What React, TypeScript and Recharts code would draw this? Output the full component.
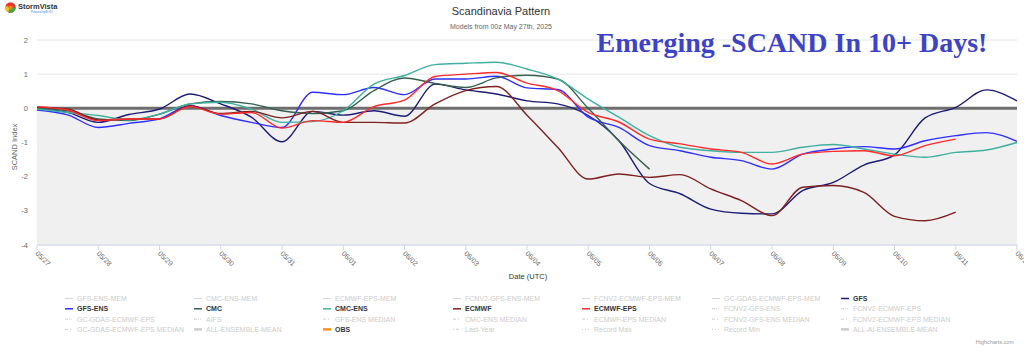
import React from 'react';
import { LineChart, Line, XAxis, YAxis, CartesianGrid, ReferenceArea, ReferenceLine } from 'recharts';

const DAYS = [0, 0.5, 1, 1.5, 2, 2.5, 3, 3.5, 4, 4.5, 5, 5.5, 6, 6.5, 7, 7.5, 8, 8.5, 9, 9.5, 10, 10.5, 11, 11.5, 12, 12.5, 13, 13.5, 14, 14.5, 15, 15.5, 16];
const DATE_TICKS = [0, 1, 2, 3, 4, 5, 6, 7, 8, 9, 10, 11, 12, 13, 14, 15, 16];
const DATE_LABELS = ['05/27', '05/28', '05/29', '05/30', '05/31', '06/01', '06/02', '06/03', '06/04', '06/05', '06/06', '06/07', '06/08', '06/09', '06/10', '06/11', '06/12'];
const Y_TICKS = [-4, -3, -2, -1, 0, 1, 2];

const GFS = [-0.02, -0.12, -0.41, -0.18, -0.02, 0.42, 0.13, -0.26, -0.98, -0.09, -0.2, -0.07, -0.23, 0.71, 0.54, 0.42, 0.22, 0.13, -0.21, -0.95, -2.2, -2.5, -2.95, -3.07, -3.09, -2.41, -2.17, -1.66, -1.36, -0.28, 0.03, 0.54, 0.22];
const GFS_ENS = [-0.05, -0.19, -0.56, -0.44, -0.31, 0.08, -0.21, -0.41, -0.56, 0.47, 0.4, 0.61, 0.4, 0.86, 0.86, 0.94, 0.6, 0.55, -0.26, -0.56, -1.09, -1.24, -1.43, -1.53, -1.78, -1.34, -1.19, -1.12, -1.19, -0.95, -0.8, -0.71, -0.97];
const CMC = [0.0, -0.07, -0.31, -0.36, -0.17, 0.13, 0.2, 0.13, -0.07, -0.15, -0.07, 0.52, 0.89, 0.73, 0.61, 0.89, 0.97, 0.86, 0.0, -0.95, -1.78, null, null, null, null, null, null, null, null, null, null, null, null];
const CMC_ENS = [-0.02, -0.12, -0.21, -0.34, -0.17, 0.13, 0.18, -0.02, -0.41, -0.39, -0.07, 0.71, 0.96, 1.28, 1.32, 1.35, 1.15, 0.86, 0.27, -0.26, -0.8, -1.14, -1.24, -1.29, -1.29, -1.14, -1.06, -1.19, -1.34, -1.43, -1.29, -1.22, -1.0];
const ECMWF = [0.03, -0.02, -0.34, -0.31, -0.31, 0.08, -0.15, -0.09, -0.28, -0.09, -0.41, -0.41, -0.43, 0.13, 0.52, 0.64, -0.2, -1.14, -2.07, -1.92, -2.02, -1.94, -2.36, -2.7, -3.14, -2.31, -2.26, -2.46, -3.16, -3.29, -3.04, null, null];
const ECMWF_EPS = [0.05, -0.05, -0.36, -0.31, -0.31, 0.05, -0.17, -0.12, -0.58, -0.36, -0.41, 0.05, 0.24, 0.93, 1.0, 1.05, 0.74, 0.52, -0.12, -0.4, -0.9, -1.04, -1.19, -1.29, -1.63, -1.34, -1.26, -1.24, -1.39, -1.09, -0.9, null, null];

const SERIES = [
  { key: 'GFS', color: '#1c1c78', values: GFS },
  { key: 'GFS-ENS', color: '#2f2fff', values: GFS_ENS },
  { key: 'CMC', color: '#33604f', values: CMC },
  { key: 'CMC-ENS', color: '#3fb0a0', values: CMC_ENS },
  { key: 'ECMWF', color: '#7d2020', values: ECMWF },
  { key: 'ECMWF-EPS', color: '#ff2a2a', values: ECMWF_EPS },
];

const LEGEND_NAMES = [
  'GFS-ENS-MEM', 'CMC-ENS-MEM', 'ECMWF-EPS-MEM', 'FCNV2-GFS-ENS-MEM', 'FCNV2-ECMWF-EPS-MEM', 'GC-GDAS-ECMWF-EPS-MEM', 'GFS',
  'GFS-ENS', 'CMC', 'CMC-ENS', 'ECMWF', 'ECMWF-EPS', 'FCNV2-GFS-ENS', 'FCNV2-ECMWF-EPS',
  'GC-GDAS-ECMWF-EPS', 'AIFS', 'GFS-ENS MEDIAN', 'CMC-ENS MEDIAN', 'ECMWF-EPS MEDIAN', 'FCNV2-GFS-ENS MEDIAN', 'FCNV2-ECMWF-EPS MEDIAN',
  'GC-GDAS-ECMWF-EPS MEDIAN', 'ALL-ENSEMBLE-MEAN', 'OBS', 'Last-Year', 'Record Max', 'Record Min', 'ALL-AI-ENSEMBLE-MEAN',
];
const LEGEND_SYMBOLS = [
  'thin', 'thin', 'thin', 'thin', 'thin', 'thin', 'solid',
  'solid', 'solid', 'solid', 'solid', 'solid', 'dashdotdot', 'dashdotdot',
  'dashdotdot', 'dashdotdot', 'dashdot', 'dashdot', 'dashdot', 'dashdot', 'dashdot',
  'dashdot', 'thick', 'thick', 'dotdash', 'dot', 'dot', 'thick',
];
const LEGEND_COLORS: Record<string, string> = {
  GFS: '#1c1c78', 'GFS-ENS': '#2f2fff', CMC: '#33604f', 'CMC-ENS': '#3fb0a0', ECMWF: '#7d2020', 'ECMWF-EPS': '#ff2a2a', OBS: '#f7941d',
};

const data = DAYS.map((d, i) => {
  const row: Record<string, number | null> = { day: d };
  SERIES.forEach((s) => { row[s.key] = s.values[i]; });
  return row;
});

const FONT = '"Liberation Sans", Arial, sans-serif';

const XTick = (props: any) => {
  const { x, y, payload } = props;
  return (
    <text x={x - 2} y={y + 2} transform={`rotate(45, ${x - 2}, ${y + 2})`} textAnchor="start" fontSize={7} fill="#666" fontFamily={FONT}>
      {DATE_LABELS[payload.value]}
    </text>
  );
};

const dashFor = (t: string) => {
  switch (t) {
    case 'dashdotdot': return '3,1,1,1,1,1';
    case 'dashdot': return '3,2,1,2';
    case 'dot': return '1,2';
    case 'dotdash': return '1,2,3,2';
    default: return undefined;
  }
};

const LegendBlock = () => {
  const colX = [65, 194, 323, 453, 582, 712, 841];
  const rowY = [298.5, 308.8, 319.1, 329.4];
  return (
    <svg width={1024} height={347} style={{ position: 'absolute', left: 0, top: 0, pointerEvents: 'none' }}>
      {LEGEND_NAMES.map((name, i) => {
        const c = i % 7;
        const r = Math.floor(i / 7);
        const x = colX[c];
        const y = rowY[r];
        const t = LEGEND_SYMBOLS[i];
        const active = LEGEND_COLORS[name];
        const stroke = active || '#cccccc';
        const sw = t === 'thick' ? 2.5 : t === 'thin' ? 0.8 : active ? 1.5 : 1;
        return (
          <g key={name}>
            <line x1={x} x2={x + 8} y1={y} y2={y} stroke={stroke} strokeWidth={sw} strokeDasharray={dashFor(t)} />
            <text x={x + 12} y={y} dy="0.35em" fontSize={7} fontFamily={FONT} fill={active ? '#333333' : '#cccccc'} fontWeight={active ? 'bold' : 'normal'}>
              {name}
            </text>
          </g>
        );
      })}
    </svg>
  );
};

export default function App() {
  return (
    <div style={{ position: 'absolute', left: 0, top: 0, width: 1024, height: 347, background: '#fff', overflow: 'hidden' }}>
      <LineChart width={1024} height={347} data={data} margin={{ top: 40, right: 7, bottom: 72, left: 0 }}>
        <ReferenceArea y1={-4} y2={0} fill="#f0f0f0" fillOpacity={1} stroke="none" ifOverflow="visible" />
        <CartesianGrid vertical={false} stroke="#e6e6e6" />
        <XAxis
          dataKey="day"
          type="number"
          domain={[0, 16]}
          ticks={DATE_TICKS}
          interval={0}
          height={30}
          tick={<XTick />}
          tickSize={5}
          tickMargin={2}
          stroke="#ccd6eb"
          axisLine={{ stroke: '#ccd6eb' }}
          tickLine={{ stroke: '#ccd6eb' }}
        />
        <YAxis
          type="number"
          domain={[-4, 2]}
          ticks={Y_TICKS}
          width={37}
          axisLine={false}
          tickLine={false}
          tickSize={0}
          tickMargin={9}
          tick={{ fontSize: 7.5, fill: '#666', fontFamily: FONT }}
        />
        <ReferenceLine y={0} stroke="#6e6e6e" strokeWidth={3} />
        {SERIES.map((s) => (
          <Line
            key={s.key}
            dataKey={s.key}
            type="monotone"
            stroke={s.color}
            strokeWidth={1.4}
            dot={false}
            connectNulls={false}
            isAnimationActive={false}
          />
        ))}
      </LineChart>

      <LegendBlock />

      <svg width={1024} height={347} style={{ position: 'absolute', left: 0, top: 0, pointerEvents: 'none' }}>
        {/* logo */}
        <circle cx={10.5} cy={7.5} r={5.2} fill="#e8352b" />
        <path d="M 10.5 7.5 L 15.7 7.5 A 5.2 5.2 0 0 1 8 12.1 Z" fill="#3aa845" />
        <path d="M 10.5 7.5 L 8 12.1 A 5.2 5.2 0 0 1 5.5 5.8 Z" fill="#f2c21b" />
        <circle cx={10.5} cy={7.5} r={2} fill="#f07f1d" />
        <text x={18} y={9} fontSize={7.5} fontWeight="bold" fill="#333" fontFamily={FONT}>StormVista</text>
        <text x={31} y={12.5} fontSize={2.6} fill="#4a8fd6" fontFamily={FONT}>Powered by AI WX</text>

        <text x={501} y={15} textAnchor="middle" fontSize={11} fill="#333" fontFamily={FONT}>Scandinavia Pattern</text>
        <text x={501} y={29} textAnchor="middle" fontSize={7} fill="#666" fontFamily={FONT}>Models from 00z May 27th, 2025</text>

        <text x={792} y={52} textAnchor="middle" fontSize={28} fontWeight="bold" fill="#3d43c6" fontFamily='"Liberation Serif", "Times New Roman", serif'>
          Emerging -SCAND In 10+ Days!
        </text>

        <text x={14} y={147} transform="rotate(-90, 14, 147)" textAnchor="middle" dy="0.35em" fontSize={7.5} fill="#666" fontFamily={FONT}>SCAND Index</text>
        <text x={528} y={279} textAnchor="middle" fontSize={7.5} fill="#333" fontFamily={FONT}>Date (UTC)</text>

        <text x={1014} y={344} textAnchor="end" fontSize={5.5} fill="#999" fontFamily={FONT}>Highcharts.com</text>
      </svg>
    </div>
  );
}
